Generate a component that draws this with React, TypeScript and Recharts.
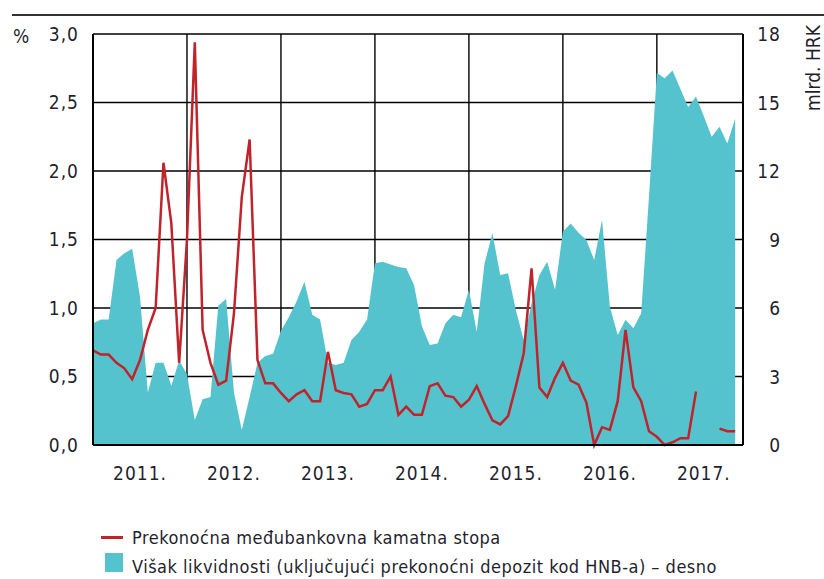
import { ComposedChart, Area, Line, XAxis, YAxis, CartesianGrid } from "recharts";

// monthly, Jan 2011 – Nov 2017
const MONTHS = 83;
const YEAR_TICKS = [0, 12, 24, 36, 48, 60, 72];
const YEAR_LABELS = ["2011.", "2012.", "2013.", "2014.", "2015.", "2016.", "2017."];
const LEFT_TICKS = [0, 0.5, 1, 1.5, 2, 2.5, 3];
const RIGHT_TICKS = [0, 3, 6, 9, 12, 15, 18];

// overnight interbank rate, %
const RATE: (number | null)[] = [
  0.69, 0.66, 0.66, 0.6, 0.56, 0.48, 0.62, 0.84, 1.0, 2.06, 1.62, 0.6,
  1.5, 2.94, 0.84, 0.6, 0.44, 0.47, 0.96, 1.81, 2.23, 0.62, 0.45, 0.45,
  0.38, 0.32, 0.37, 0.4, 0.32, 0.32, 0.68, 0.4, 0.38, 0.37, 0.28, 0.3,
  0.4, 0.4, 0.5, 0.22, 0.28, 0.22, 0.22, 0.43, 0.45, 0.36, 0.35, 0.28,
  0.33, 0.43, 0.3, 0.18, 0.15, 0.21, 0.43, 0.67, 1.29, 0.42, 0.35, 0.49,
  0.6, 0.47, 0.44, 0.31, 0.0, 0.13, 0.11, 0.32, 0.84, 0.42, 0.32, 0.1,
  0.06, 0.0, 0.02, 0.05, 0.05, 0.39, null, null, 0.12, 0.1, 0.1,
];

// excess liquidity, mlrd. HRK (right axis)
const LIQUIDITY = [
  5.33, 5.5, 5.5, 8.1, 8.4, 8.6, 6.5, 2.3, 3.6, 3.6, 2.6, 3.7,
  3.1, 1.1, 2.0, 2.1, 6.1, 6.4, 2.3, 0.66, 2.1, 3.6, 3.9, 4.0,
  5.0, 5.6, 6.3, 7.15, 5.7, 5.5, 3.6, 3.5, 3.6, 4.6, 4.96, 5.5,
  7.96, 8.03, 7.9, 7.8, 7.74, 7.0, 5.2, 4.38, 4.45, 5.33, 5.7, 5.6,
  6.8, 4.96, 7.96, 9.27, 7.45, 7.52, 5.9, 4.6, 6.2, 7.45, 8.03, 6.8,
  9.34, 9.7, 9.3, 8.98, 8.1, 9.86, 6.06, 4.82, 5.48, 5.11, 5.77, 10.9,
  16.3, 16.06, 16.4, 15.6, 14.8, 15.26, 14.4, 13.5, 13.94, 13.2, 14.3,
];

const RED = "#c1232b";
const TEAL = "#55c3ce";
const INK = "#1f1f2e";
const FONT = "'Liberation Sans Narrow', 'DejaVu Sans Condensed', sans-serif";
const PLOT_W = 650;

const data = RATE.map((r, i) => ({ i, rate: r, liq: LIQUIDITY[i] }));

const fmtLeft = (v: number) => v.toFixed(1).replace(".", ",");

function YearTick({ x, y, payload }: any) {
  const idx = YEAR_TICKS.indexOf(payload.value);
  const half = (PLOT_W * 6) / MONTHS;
  return (
    <text
      x={x + half}
      y={y + 26}
      textAnchor="middle"
      dominantBaseline="central"
      fill={INK}
      fontSize={19}
      fontFamily={FONT}
      letterSpacing={1}
    >
      {YEAR_LABELS[idx]}
    </text>
  );
}

function RightTick({ x, y, payload }: any) {
  return (
    <text
      x={x + 38}
      y={y}
      textAnchor="end"
      dominantBaseline="central"
      fill={INK}
      fontSize={19}
      fontFamily={FONT}
      letterSpacing={1}
    >
      {payload.value}
    </text>
  );
}

export default function App() {
  const tickStyle = { fill: INK, fontSize: 19, fontFamily: FONT, letterSpacing: 1 };
  return (
    <div style={{ position: "absolute", left: 0, top: 0, width: 824, height: 579, background: "#fff", fontFamily: FONT }}>
      <div style={{ position: "absolute", left: 12, top: 14, width: 812, height: 2, background: "#333" }} />
      <div style={{ position: "absolute", left: 13, top: 25, fontSize: 19, color: INK }}>%</div>
      <div
        style={{
          position: "absolute",
          left: 813,
          top: 68,
          fontSize: 19,
          color: INK,
          whiteSpace: "nowrap",
          transform: "translate(-50%, -50%) rotate(-90deg)",
        }}
      >
        mlrd. HRK
      </div>

      <ComposedChart width={824} height={490} data={data} margin={{ top: 34, right: 0, bottom: 0, left: 0 }}>
        <CartesianGrid yAxisId="left" stroke="#000" strokeWidth={1.4} />
        <XAxis
          dataKey="i"
          type="number"
          domain={[0, MONTHS]}
          ticks={YEAR_TICKS}
          tick={<YearTick />}
          tickLine={false}
          tickSize={0}
          height={45}
          axisLine={{ stroke: "#000", strokeWidth: 2 }}
        />
        <YAxis
          yAxisId="left"
          domain={[0, 3]}
          ticks={LEFT_TICKS}
          tickFormatter={fmtLeft}
          width={93}
          tickLine={false}
          tickSize={0}
          tickMargin={14}
          tick={tickStyle}
          axisLine={{ stroke: "#000", strokeWidth: 2 }}
        />
        <YAxis
          yAxisId="right"
          orientation="right"
          domain={[0, 18]}
          ticks={RIGHT_TICKS}
          width={81}
          tickLine={false}
          tickSize={0}
          tickMargin={0}
          tick={<RightTick />}
          axisLine={{ stroke: "#000", strokeWidth: 2 }}
        />
        <Area
          yAxisId="right"
          dataKey="liq"
          type="linear"
          fill={TEAL}
          fillOpacity={1}
          stroke="none"
          isAnimationActive={false}
        />
        <Line
          yAxisId="left"
          dataKey="rate"
          type="linear"
          stroke={RED}
          strokeWidth={2.5}
          dot={false}
          isAnimationActive={false}
        />
      </ComposedChart>

      <div style={{ position: "absolute", left: 101, top: 536, width: 22, height: 3, background: RED }} />
      <div style={{ position: "absolute", left: 132, top: 537, transform: "translateY(-50%)", fontSize: 18, color: INK, letterSpacing: 0.5, whiteSpace: "nowrap" }}>
        Prekonoćna međubankovna kamatna stopa
      </div>
      <div style={{ position: "absolute", left: 105, top: 553, width: 18, height: 19, background: TEAL }} />
      <div style={{ position: "absolute", left: 132, top: 566, transform: "translateY(-50%)", fontSize: 18, color: INK, letterSpacing: 0.5, whiteSpace: "nowrap" }}>
        Višak likvidnosti (uključujući prekonoćni depozit kod HNB-a) – desno
      </div>
    </div>
  );
}
